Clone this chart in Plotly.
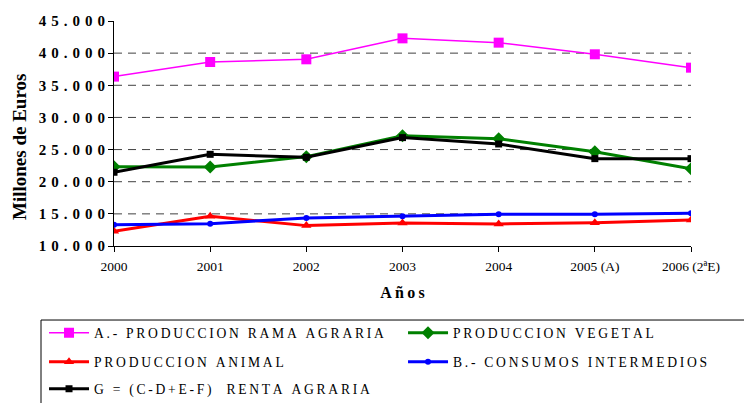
import plotly.graph_objects as go

years = ["2000", "2001", "2002", "2003", "2004", "2005 (A)", "2006 (2ªE)"]
rama_agraria = [36350, 38620, 39040, 42300, 41630, 39820, 37740]
prod_vegetal = [22340, 22300, 23900, 27160, 26700, 24670, 22030]
prod_animal = [12290, 14630, 13170, 13580, 13430, 13630, 14050]
consumos_interm = [13320, 13480, 14360, 14630, 14940, 14940, 15100]
renta_agraria = [21470, 24260, 23800, 26860, 25870, 23590, 23590]

ytick_vals = [10000, 15000, 20000, 25000, 30000, 35000, 40000, 45000]
ytick_text = ["10.000", "15.000", "20.000", "25.000", "30.000", "35.000", "40.000", "45.000"]
grid_vals = [15000, 20000, 25000, 30000, 35000, 40000]

def spaced(s, sp="\u2009"):
    return sp.join(list(s))

FONT = "Liberation Serif, Times New Roman, serif"

# name, values, colour, line width, symbol, marker size, legend id, legend x, legend y (container)
series = [
    ("A.- PRODUCCION RAMA AGRARIA", rama_agraria, "#FF00FF", 1.5, "square", 10, "legend", 0.0479, 0.1935),
    ("PRODUCCION VEGETAL", prod_vegetal, "#008000", 3, "diamond", 10, "legend2", 0.5253, 0.1935),
    ("PRODUCCION ANIMAL", prod_animal, "#FF0000", 3, "triangle-up", 9, "legend3", 0.0479, 0.1216),
    ("B.- CONSUMOS INTERMEDIOS", consumos_interm, "#0000FF", 3, "circle", 6, "legend4", 0.5253, 0.1216),
    ("G = (C-D+E-F)  RENTA AGRARIA", renta_agraria, "#000000", 3, "square", 7, "legend5", 0.0479, 0.0546),
]

fig = go.Figure()
legends = {}
for name, vals, col, lw, sym, ms, lg, lx, ly in series:
    fig.add_trace(go.Scatter(
        x=years, y=vals, name=spaced(name), mode="lines+markers",
        line=dict(color=col, width=lw),
        marker=dict(symbol=sym, size=ms, color=col),
        legend=lg,
    ))
    legends[lg] = dict(x=lx, y=ly, xref="container", yref="container",
                       orientation="h", xanchor="left", yanchor="middle",
                       font=dict(family=FONT, size=13.6, color="black"),
                       bgcolor="rgba(0,0,0,0)", borderwidth=0, itemwidth=40)

shapes = [dict(type="line", xref="paper", yref="y", x0=0, x1=1, y0=g, y1=g,
               line=dict(color="#404040", width=1, dash="8px,6px"), layer="below")
          for g in grid_vals]
shapes.append(dict(type="rect", xref="paper", yref="paper",
                   x0=-0.1265, x1=1.2, y0=-0.8, y1=-0.329,
                   line=dict(color="black", width=1), fillcolor="rgba(0,0,0,0)"))

fig.update_layout(
    width=752, height=403,
    margin=dict(l=106, r=69, t=13, b=165),
    paper_bgcolor="white", plot_bgcolor="white",
    showlegend=True,
    xaxis=dict(
        type="category", range=[0, 6], automargin=False,
        showline=True, linecolor="black", linewidth=1,
        ticks="outside", ticklen=5, tickcolor="black",
        showgrid=False, zeroline=False, ticklabelstandoff=3,
        tickfont=dict(family=FONT, size=13.5, color="black"),
        title=dict(text=spaced("Años"), font=dict(family=FONT, size=16, color="black", weight="bold"), standoff=13),
    ),
    yaxis=dict(
        range=[10000, 45000], automargin=False,
        tickvals=ytick_vals, ticktext=[spaced(t, "\u2004") for t in ytick_text],
        showline=True, linecolor="black", linewidth=1,
        ticks="outside", ticklen=5, tickcolor="black",
        showgrid=False, zeroline=False,
        tickfont=dict(family=FONT, size=15, color="black", weight="bold"),
    ),
    annotations=[dict(text="<b>Millones de Euros</b>", textangle=-90,
                      xref="paper", yref="paper", x=-0.1646, y=0.44,
                      xanchor="center", yanchor="middle", showarrow=False,
                      font=dict(family=FONT, size=19, color="black"))],
    shapes=shapes,
    **legends,
)

fig.write_html("out.html")
